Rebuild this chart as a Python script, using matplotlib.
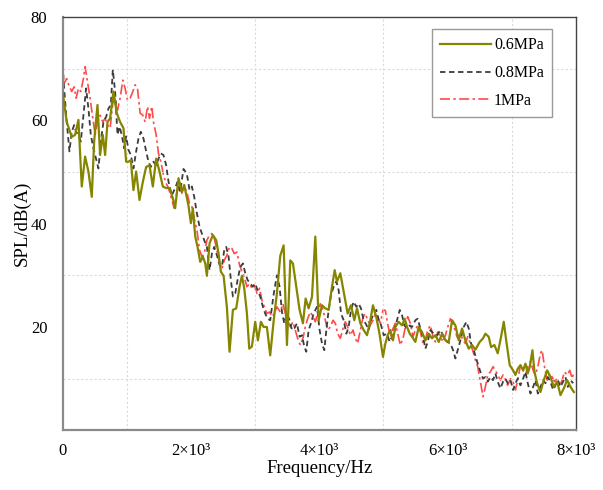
import matplotlib
matplotlib.use("Agg")
import matplotlib.pyplot as plt
from matplotlib.ticker import FixedLocator, FixedFormatter

plt.rcParams["font.family"] = ["Liberation Serif", "DejaVu Serif"]

# 0.6MPa (solid olive)
freq_06 = [0, 63, 141, 193, 245, 297, 349, 401, 453, 490, 542, 583, 625, 661, 698, 739, 791, 843, 895, 947,
           989, 1025, 1062, 1103, 1145, 1197, 1249, 1301, 1353, 1405, 1457, 1509, 1561, 1613, 1665, 1717, 1753,
           1805, 1857, 1894, 1962, 1998, 2029, 2066, 2102, 2144, 2185, 2222, 2248, 2289, 2341, 2393, 2430, 2466,
           2508, 2559, 2601, 2653, 2705, 2757, 2794, 2830, 2872, 2908, 2949, 3001, 3043, 3090, 3131, 3183, 3235,
           3287, 3339, 3392, 3444, 3496, 3548, 3589, 3641, 3693, 3745, 3787, 3834, 3886, 3938, 3990, 4042, 4094,
           4146, 4198, 4240, 4276, 4328, 4380, 4442, 4494, 4546, 4588, 4640, 4692, 4744, 4796, 4837, 4889, 4941,
           4993, 5030, 5066, 5108, 5149, 5186, 5238, 5290, 5331, 5368, 5410, 5446, 5498, 5550, 5602, 5654, 5706,
           5758, 5810, 5862, 5914, 5966, 6018, 6070, 6122, 6174, 6226, 6278, 6330, 6382, 6433, 6501, 6553, 6589,
           6641, 6678, 6730, 6782, 6834, 6876, 6917, 6969, 7021, 7058, 7094, 7136, 7178, 7214, 7250, 7282, 7323,
           7355, 7396, 7448, 7500, 7552, 7604, 7656, 7708, 7760, 7812, 7864, 7916, 7968]
spl_06 = [65.4, 59.7, 56.8, 57.2, 60.1, 47.2, 53.0, 50.1, 45.2, 55.9, 63.0, 53.3, 57.2, 53.3, 59.7, 60.4, 65.6,
          61.4, 59.7, 58.5, 52.0, 52.0, 52.3, 46.5, 50.1, 44.6, 48.1, 51.0, 51.3, 47.2, 52.6, 50.1, 47.2, 46.9,
          46.9, 44.9, 43.0, 48.8, 46.2, 47.5, 43.4, 40.1, 43.0, 37.5, 35.5, 32.6, 33.6, 32.3, 29.9, 36.2, 37.8,
          36.8, 34.2, 30.7, 29.9, 23.9, 15.2, 23.3, 23.6, 27.8, 29.9, 27.5, 22.6, 15.8, 16.2, 21.0, 17.4, 21.0,
          20.0, 20.0, 14.5, 21.0, 26.5, 33.8, 35.8, 16.5, 32.9, 32.3, 27.8, 23.3, 20.7, 25.5, 23.6, 25.8, 37.5,
          21.3, 24.2, 23.6, 23.3, 27.8, 31.0, 28.8, 30.4, 26.8, 22.6, 24.2, 21.3, 23.6, 20.7, 19.4, 18.4, 21.3,
          24.2, 21.9, 18.5, 14.2, 16.8, 18.4, 19.4, 17.4, 20.0, 21.0, 20.3, 21.6, 20.0, 18.7, 18.1, 17.1, 20.0,
          19.0, 17.4, 18.7, 17.8, 18.4, 17.1, 18.7, 17.4, 17.1, 21.3, 20.3, 17.4, 19.7, 17.4, 15.8, 16.5, 15.6,
          17.1, 17.8, 18.7, 18.1, 16.1, 16.5, 14.9, 18.1, 21.0, 17.1, 12.6, 11.6, 10.7, 11.9, 12.6, 11.6, 12.9,
          11.0, 12.3, 15.5, 11.3, 9.1, 7.4, 9.7, 11.6, 10.3, 8.4, 9.4, 6.8, 8.1, 9.7, 8.4, 7.4]

# 0.8MPa (dashed dark grey)
freq_08 = [0, 22, 63, 105, 141, 178, 209, 245, 282, 323, 365, 401, 438, 479, 531, 557, 594, 635, 677, 713, 750,
           781, 817, 854, 885, 921, 957, 989, 1025, 1062, 1103, 1145, 1181, 1218, 1259, 1301, 1337, 1374, 1415,
           1457, 1493, 1530, 1571, 1613, 1650, 1701, 1753, 1790, 1831, 1883, 1935, 1977, 2014, 2050, 2092, 2133,
           2170, 2206, 2248, 2289, 2326, 2362, 2404, 2446, 2482, 2518, 2549, 2586, 2622, 2653, 2690, 2726, 2768,
           2810, 2846, 2882, 2924, 2965, 3001, 3038, 3079, 3121, 3157, 3194, 3235, 3287, 3339, 3381, 3418, 3454,
           3496, 3537, 3574, 3610, 3652, 3693, 3730, 3766, 3797, 3834, 3870, 3912, 3964, 4005, 4042, 4078, 4110,
           4146, 4183, 4224, 4266, 4302, 4339, 4380, 4422, 4458, 4494, 4536, 4578, 4614, 4650, 4692, 4734, 4770,
           4806, 4848, 4889, 4926, 4962, 5004, 5056, 5097, 5134, 5170, 5212, 5254, 5290, 5326, 5368, 5410, 5446,
           5498, 5534, 5576, 5618, 5654, 5690, 5732, 5784, 5836, 5888, 5940, 5992, 6044, 6086, 6122, 6158, 6200,
           6252, 6294, 6330, 6366, 6408, 6440, 6470, 6512, 6553, 6589, 6626, 6667, 6709, 6745, 6782, 6823, 6865,
           6901, 6938, 6980, 7021, 7058, 7094, 7136, 7178, 7214, 7250, 7292, 7334, 7370, 7407, 7448, 7490, 7526,
           7563, 7604, 7646, 7682, 7718, 7760, 7802, 7838, 7874, 7916, 7958]
spl_08 = [70.7, 66.2, 59.7, 54.0, 57.8, 59.1, 57.8, 57.2, 55.9, 61.0, 66.2, 62.3, 57.2, 54.6, 52.0, 50.7, 55.9,
          59.7, 60.7, 62.3, 63.0, 69.8, 65.6, 57.2, 58.8, 57.2, 54.6, 56.9, 54.3, 53.3, 50.7, 54.0, 56.5, 57.8,
          56.5, 54.0, 52.0, 51.0, 52.0, 51.3, 52.6, 53.6, 53.3, 51.3, 48.1, 45.5, 46.9, 48.1, 46.2, 50.6, 49.7,
          46.5, 47.2, 45.2, 42.0, 39.4, 38.1, 36.8, 35.5, 31.0, 34.2, 35.5, 33.9, 32.0, 31.6, 34.9, 35.5, 33.6,
          29.1, 25.9, 26.5, 29.1, 31.6, 32.3, 30.4, 29.1, 28.4, 27.8, 28.4, 27.1, 25.9, 23.9, 22.6, 21.6, 21.3,
          26.2, 30.0, 27.8, 22.9, 20.7, 22.6, 21.3, 19.4, 19.7, 20.7, 18.1, 18.4, 16.2, 15.2, 19.4, 20.7, 22.6,
          23.9, 19.4, 16.8, 15.5, 19.4, 23.3, 26.2, 27.8, 28.8, 27.1, 22.6, 21.3, 18.7, 20.0, 23.3, 24.9, 23.9,
          24.5, 23.6, 21.3, 20.4, 19.4, 21.3, 22.6, 23.3, 21.3, 20.4, 18.4, 18.7, 17.1, 18.1, 19.4, 21.3, 23.3,
          22.3, 20.3, 19.7, 20.3, 20.0, 21.3, 21.6, 19.7, 18.1, 15.8, 17.1, 19.4, 18.7, 18.4, 19.4, 18.1, 17.1,
          16.8, 15.5, 13.9, 15.5, 17.4, 20.0, 21.0, 19.7, 16.8, 15.5, 14.2, 12.9, 11.3, 10.0, 10.3, 9.4, 10.3,
          9.7, 11.0, 9.4, 8.1, 9.4, 10.0, 9.1, 9.7, 7.8, 9.1, 10.0, 8.7, 10.0, 11.3, 9.1, 7.1, 8.4, 9.7, 7.1,
          8.4, 9.7, 9.1, 10.3, 9.4, 7.8, 8.7, 9.7, 8.4, 9.4, 10.3, 8.4, 9.7, 9.1]

# 1MPa (dash-dot red)
freq_10 = [0, 22, 63, 105, 141, 178, 209, 245, 282, 323, 349, 386, 427, 469, 505, 542, 583, 625, 661, 698, 739,
           781, 817, 854, 895, 937, 973, 1010, 1051, 1093, 1129, 1166, 1207, 1249, 1285, 1322, 1353, 1389, 1415,
           1457, 1493, 1530, 1571, 1613, 1650, 1701, 1737, 1779, 1821, 1857, 1894, 1935, 1977, 2014, 2050, 2092,
           2133, 2170, 2206, 2248, 2289, 2326, 2362, 2404, 2446, 2482, 2518, 2560, 2601, 2638, 2674, 2716, 2757,
           2794, 2830, 2872, 2913, 2950, 2986, 3028, 3069, 3105, 3142, 3183, 3225, 3261, 3298, 3339, 3392, 3433,
           3470, 3506, 3548, 3589, 3626, 3662, 3704, 3745, 3782, 3818, 3860, 3902, 3938, 3974, 4016, 4058, 4094,
           4130, 4172, 4214, 4250, 4286, 4328, 4370, 4406, 4442, 4484, 4526, 4562, 4598, 4640, 4682, 4718, 4754,
           4796, 4837, 4874, 4910, 4952, 4993, 5030, 5066, 5108, 5149, 5186, 5222, 5264, 5306, 5342, 5378, 5420,
           5462, 5498, 5534, 5576, 5618, 5654, 5690, 5732, 5774, 5810, 5846, 5888, 5930, 5966, 6003, 6044, 6086,
           6122, 6158, 6200, 6242, 6278, 6314, 6356, 6398, 6434, 6470, 6512, 6553, 6589, 6626, 6667, 6709, 6745,
           6782, 6823, 6865, 6901, 6938, 6980, 7021, 7058, 7094, 7136, 7178, 7214, 7250, 7292, 7334, 7370, 7407,
           7448, 7474, 7511, 7552, 7594, 7630, 7667, 7708, 7750, 7786, 7822, 7864, 7906, 7942, 7968]
spl_10 = [67.8, 67.2, 68.1, 66.5, 65.6, 66.5, 64.3, 66.2, 65.6, 68.1, 70.4, 67.5, 64.3, 60.4, 57.2, 59.7, 61.0,
          59.7, 60.4, 59.1, 58.5, 63.3, 64.3, 62.0, 64.3, 67.8, 66.2, 63.9, 64.3, 65.6, 66.9, 66.2, 61.4, 61.0,
          59.7, 62.7, 60.4, 62.7, 59.7, 57.2, 53.6, 52.0, 49.4, 47.8, 46.9, 44.6, 43.0, 45.9, 47.8, 45.9, 47.2,
          46.2, 43.9, 43.3, 41.0, 38.8, 34.9, 33.6, 34.2, 36.8, 37.8, 38.1, 37.2, 34.9, 32.3, 31.3, 32.9, 33.9,
          35.5, 35.2, 34.2, 34.5, 32.0, 30.7, 29.7, 27.8, 28.4, 27.5, 28.1, 26.5, 27.5, 25.2, 23.9, 22.6, 22.9,
          22.0, 22.6, 23.9, 22.9, 24.5, 22.6, 21.3, 20.0, 21.0, 19.4, 17.8, 16.5, 17.8, 20.0, 21.6, 22.9, 22.0,
          21.0, 22.6, 24.5, 23.3, 21.3, 19.4, 20.0, 21.3, 20.7, 18.7, 17.8, 19.7, 21.0, 20.0, 18.4, 19.4, 17.8,
          16.8, 19.4, 21.9, 22.6, 21.3, 20.4, 21.3, 22.6, 22.0, 20.7, 23.3, 23.2, 20.6, 18.1, 19.7, 20.7, 18.7,
          16.5, 17.8, 20.0, 22.0, 20.7, 18.1, 19.4, 20.3, 19.0, 16.8, 17.4, 19.4, 20.3, 18.1, 17.1, 19.0, 18.1,
          17.1, 18.4, 20.0, 21.6, 20.7, 19.0, 17.8, 18.7, 17.4, 16.8, 18.1, 16.8, 15.2, 13.6, 12.3, 9.4, 6.5,
          8.4, 10.7, 11.3, 12.3, 11.6, 10.7, 9.7, 10.7, 9.7, 8.7, 10.0, 9.4, 7.8, 9.7, 12.6, 11.6, 10.7, 12.3,
          13.3, 11.6, 10.7, 12.3, 14.9, 15.5, 12.3, 9.7, 11.0, 10.3, 9.4, 10.0, 8.7, 9.7, 11.3, 10.7, 11.6,
          10.0, 11.3]

x_ticks = [0, 2000, 4000, 6000, 8000]
x_ticklabels = ["0", "2×10³", "4×10³", "6×10³", "8×10³"]
y_ticks = [0, 20, 40, 60, 80]
y_ticklabels = ["", "20", "40", "60", "80"]

fig = plt.figure(figsize=(6.03, 4.9), dpi=100)
ax = fig.add_axes([0.104, 0.122, 0.851, 0.843])

ax.plot(freq_06, spl_06, color="#858500", lw=1.6, ls="-", label="0.6MPa", zorder=3)
ax.plot(freq_08, spl_08, color="#3c3c3c", lw=1.3, ls=(0, (3, 2)), label="0.8MPa", zorder=2)
ax.plot(freq_10, spl_10, color="#ff4a4a", lw=1.2, ls=(0, (6, 2, 1.5, 2)), label="1MPa", zorder=1)

ax.set_xlim(0, 8000)
ax.set_ylim(0, 80)
ax.xaxis.set_major_locator(FixedLocator(x_ticks))
ax.xaxis.set_major_formatter(FixedFormatter(x_ticklabels))
ax.yaxis.set_major_locator(FixedLocator(y_ticks))
ax.yaxis.set_major_formatter(FixedFormatter(y_ticklabels))
ax.xaxis.set_minor_locator(FixedLocator([1000, 3000, 5000, 7000]))
ax.yaxis.set_minor_locator(FixedLocator([10, 30, 50, 70]))
ax.tick_params(which="both", length=0, labelsize=12)
ax.tick_params(axis="x", pad=9)
ax.tick_params(axis="y", pad=11)
ax.grid(which="minor", color="#dadada", lw=0.8, ls=(0, (2, 2)))
ax.grid(which="major", visible=False)

for side in ("left", "bottom"):
    ax.spines[side].set_color("#8a8a8a")
    ax.spines[side].set_linewidth(1.6)
for side in ("top", "right"):
    ax.spines[side].set_color("#444444")
    ax.spines[side].set_linewidth(1.0)

ax.set_xlabel("Frequency/Hz", fontsize=13.5, labelpad=1)
ax.set_ylabel("SPL/dB(A)", fontsize=13.5, labelpad=0)

leg = ax.legend(loc="upper right", bbox_to_anchor=(0.953, 0.971), borderaxespad=0,
                fontsize=11.5, handlelength=3.2, handletextpad=0.2, labelspacing=0.75,
                fancybox=False, framealpha=1, borderpad=0.5)
leg.get_frame().set_edgecolor("#999999")
leg.get_frame().set_linewidth(1.0)

fig.savefig("out.png", dpi=100)
